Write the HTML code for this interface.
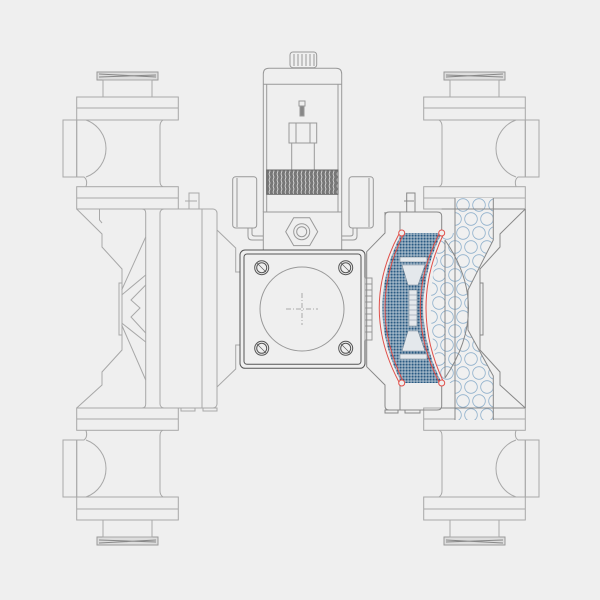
<!DOCTYPE html>
<html><head><meta charset="utf-8"><style>
html,body{margin:0;padding:0;background:#efefef}
svg{display:block}
</style></head><body>
<svg width="600" height="600" viewBox="0 0 600 600" xmlns="http://www.w3.org/2000/svg">
<defs>
<pattern id="mesh" width="3" height="3" patternUnits="userSpaceOnUse">
<rect width="3" height="3" fill="#dfe6ec"/><rect x="0.4" y="0.4" width="2.3" height="2.3" fill="#2a5a82"/>
</pattern>
<pattern id="circ" width="16" height="28" patternUnits="userSpaceOnUse" x="455" y="198">
<rect width="16" height="28" fill="#f0f0f0"/>
<circle cx="8" cy="7" r="6.3" fill="none" stroke="#8fb0cc" stroke-width="0.8"/>
<circle cx="0" cy="21" r="6.3" fill="none" stroke="#8fb0cc" stroke-width="0.8"/>
<circle cx="16" cy="21" r="6.3" fill="none" stroke="#8fb0cc" stroke-width="0.8"/>
</pattern>
<pattern id="knurl" width="4" height="6" patternUnits="userSpaceOnUse">
<rect width="4" height="6" fill="#777"/><path d="M1,0 L2,3 L1,6" stroke="#e0e0e0" stroke-width="0.8" fill="none"/>
</pattern>
<g id="half" fill="none" stroke="#a8a8a8" stroke-width="1">
<rect x="97" y="72" width="61" height="8" fill="#ddd" stroke="#999"/>
<path d="M99,74 L156,77 M99,77 L156,75" stroke="#888"/>
<rect x="103" y="80" width="49" height="17"/>
<rect x="76.7" y="97" width="101.6" height="23"/><line x1="76.7" y1="108" x2="178.3" y2="108"/>
<rect x="63" y="120" width="13.7" height="57"/>
<path d="M76.7,120 V177 H84 Q88,180 86,186.7 M86,120 A30.3,30.3 0 0 1 86,177"/>
<path d="M163,120 Q160,122 160,126 V181 Q160,186 163,186.7"/>
<rect x="76.7" y="186.7" width="101.6" height="22.3"/><line x1="76.7" y1="198" x2="178.3" y2="198"/>
</g>
<g id="core" fill="none" stroke="#a8a8a8" stroke-width="1">
<path d="M76.7,209 L102,234 V247 L122,269 V283 M122,335 V350 L102,372 V385 L76.7,408"/>
<path d="M99.5,209 V220 L102,223"/>
<path d="M76.7,209 H142 Q145.7,209 145.7,213 V404 Q145.7,408 142,408 H76.7"/>
<rect x="119" y="283" width="3" height="52"/>
<path d="M145.7,237 L121.7,290 M145.7,275 L121.7,295 M145.7,285 L131,300 L140,308 L131,317 L145.7,333 M121.7,323 L145.7,342 M121.7,325 L145.7,380"/>
</g>
</defs>
<rect width="600" height="600" fill="#efefef"/>

<use href="#half"/>
<use href="#half" transform="translate(0,617) scale(1,-1)"/>
<use href="#core"/>
<use href="#half" transform="translate(602,0) scale(-1,1)"/>
<use href="#half" transform="translate(602,617) scale(-1,-1)"/>

<g fill="none" stroke="#a8a8a8" stroke-width="1">
<rect x="160" y="209" width="57" height="199" rx="4"/>
<line x1="202" y1="209" x2="202" y2="408"/>
<rect x="189" y="193" width="10" height="16"/><line x1="185" y1="201" x2="197" y2="201"/>
<rect x="181" y="408" width="14" height="3"/><rect x="203" y="408" width="14" height="3"/>
<path d="M217,230 L235.7,248 V272 H240 M217,387 L235.7,369 V345 H240"/>
</g>

<g fill="none" stroke="#999" stroke-width="1">
<rect x="290" y="52" width="26.7" height="15.7" rx="3"/>
<path d="M294,54 V66 M298,54 V66 M302,54 V66 M306,54 V66 M310,54 V66 M314,54 V66"/>
<path d="M263.3,212 V74 Q263.3,68.3 269,68.3 H336 Q341.7,68.3 341.7,74 V212"/>
<line x1="263.3" y1="84.3" x2="341.7" y2="84.3"/>
<line x1="266.7" y1="84.3" x2="266.7" y2="212"/><line x1="338" y1="84.3" x2="338" y2="212"/>
<rect x="299" y="101" width="6" height="5"/><rect x="300" y="106" width="4" height="10" fill="#888"/>
<rect x="289" y="123" width="27.7" height="20"/><line x1="296" y1="123" x2="296" y2="143"/><line x1="310" y1="123" x2="310" y2="143"/>
<rect x="291.7" y="143" width="22.6" height="27"/>
<rect x="266.7" y="170" width="71.3" height="24.3" fill="url(#knurl)" stroke="#666"/>
<rect x="263.3" y="212" width="78.4" height="38"/>
<polygon points="285.7,231.7 293.7,217.8 309.7,217.8 317.7,231.7 309.7,245.6 293.7,245.6"/>
<circle cx="301.7" cy="231.7" r="8"/><circle cx="301.7" cy="231.7" r="5"/>
<rect x="232.7" y="176.7" width="24" height="51.3" rx="3"/><line x1="237" y1="178" x2="237" y2="227"/>
<path d="M248,228 V236 Q248,240 252,240 H263.3 M252,228 V234 Q252,236 255,236 H263.3"/>
<rect x="349" y="176.7" width="24.3" height="51.3" rx="3"/><line x1="369" y1="178" x2="369" y2="227"/>
<path d="M357,228 V236 Q357,240 353,240 H341.7 M353,228 V234 Q353,236 350,236 H341.7"/>
</g>
<g fill="none" stroke="#555" stroke-width="1">
<rect x="240" y="250" width="125" height="118.3" rx="5" fill="#efefef"/>
<rect x="244" y="254" width="117" height="110.3" rx="3"/>
<circle cx="261.7" cy="267.7" r="7"/><circle cx="261.7" cy="267.7" r="5"/>
<circle cx="345.7" cy="267.7" r="7"/><circle cx="345.7" cy="267.7" r="5"/>
<circle cx="261.7" cy="348.3" r="7"/><circle cx="261.7" cy="348.3" r="5"/>
<circle cx="345.7" cy="348.3" r="7"/><circle cx="345.7" cy="348.3" r="5"/>
<path d="M257,263 L266,272 M257,344 L266,353 M341,263 L350,272 M341,344 L350,353" stroke-width="0.6"/>
</g>
<circle cx="302" cy="309" r="42" fill="none" stroke="#999"/>
<path d="M286,309 H318 M302,293 V325" stroke="#aaa" stroke-dasharray="5,2,1,2" fill="none"/>
<g stroke="#999" fill="none">
<rect x="365" y="278" width="7" height="62"/>
<path d="M365,284 H372 M365,290 H372 M365,296 H372 M365,302 H372 M365,308 H372 M365,314 H372 M365,320 H372 M365,326 H372 M365,332 H372"/>
</g>

<g fill="none" stroke="#888" stroke-width="1">
<path d="M385,212 V233 L366.7,251.7 V366.7 L385,385 V406 Q385,410 389,410 H437 Q441.7,410 441.7,406 V216 Q441.7,212 437,212 H389 Q385,212 385,216"/>
<line x1="400" y1="212" x2="400" y2="410"/>
<rect x="406.7" y="193" width="8.3" height="19"/><line x1="404" y1="201" x2="414" y2="201"/>
<rect x="385" y="410" width="13" height="3"/><rect x="405" y="410" width="15" height="3"/>
</g>

<path d="M455,198 H493.3 V240 L468,290 V330 L493.3,376 V420 H455 V383 L441.7,383 Q420,308 441.7,233 L455,233 Z" fill="url(#circ)"/>
<g fill="none" stroke="#888" stroke-width="1">
<path d="M455,198 V420 M493.3,198 V240 L468,290 V330 L493.3,376 V420"/>
<path d="M445,240 Q492,308 445,378"/>
<line x1="445" y1="240" x2="445" y2="378"/>
<path d="M525.3,209 L500,234 V247 L480,269 V350 L500,372 V385 L525.3,408 M525.3,209 V408"/>
<rect x="480" y="283" width="3" height="52"/>
<line x1="441.7" y1="209" x2="525.3" y2="209"/><line x1="441.7" y1="408" x2="525.3" y2="408"/>
</g>

<path d="M401.7,233 Q363,308 401.7,383 L441.7,383 Q405,308 441.7,233 Z" fill="url(#mesh)"/>
<g fill="#e4e8ec" stroke="#7a8a99" stroke-width="0.6">
<rect x="400" y="257" width="27" height="5"/>
<rect x="400" y="354" width="27" height="5"/>
<polygon points="402,265 425,265 418,285 408,285"/>
<polygon points="402,351 425,351 418,331 408,331"/>
<rect x="409" y="290" width="8" height="36"/>
<path d="M409,295 H417 M409,300 H417 M409,305 H417 M409,310 H417 M409,315 H417 M409,320 H417" fill="none"/>
</g>
<g fill="none" stroke="#e0504a" stroke-width="1">
<path d="M399.5,233 Q359,308 399.5,383 M404,233 Q366,308 404,383"/>
<path d="M439.5,233 Q401,308 439.5,383 M444,233 Q408,308 444,383"/>
<circle cx="401.7" cy="233" r="3" fill="#efefef"/><circle cx="401.7" cy="383" r="3" fill="#efefef"/>
<circle cx="441.7" cy="233" r="3" fill="#efefef"/><circle cx="441.7" cy="383" r="3" fill="#efefef"/>
</g>
</svg>
</body></html>
